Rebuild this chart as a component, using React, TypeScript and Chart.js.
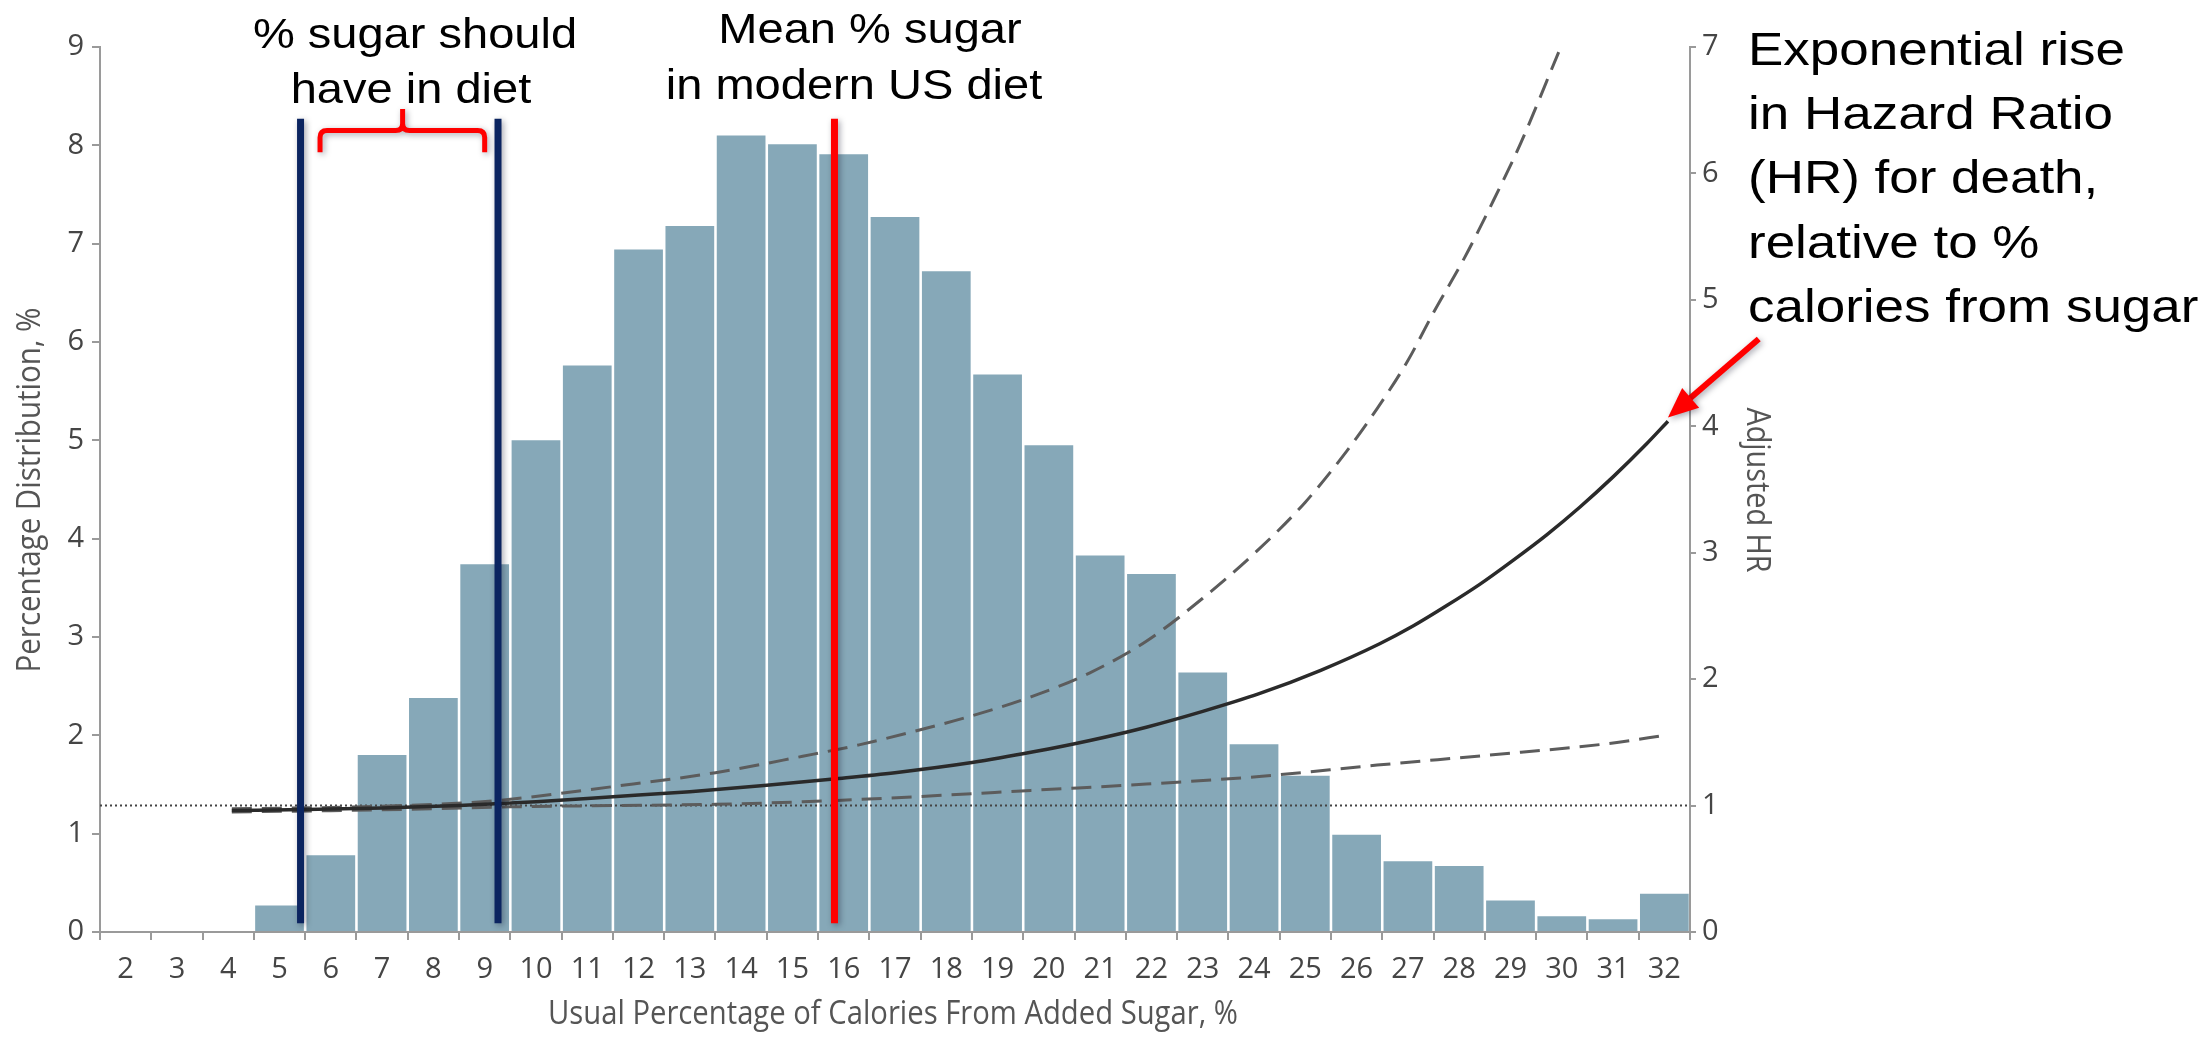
import React, { useEffect, useRef } from "react";
import { Chart, registerables } from "chart.js";

Chart.register(...registerables);

// ---------- data ----------
const categories = [
  "2", "3", "4", "5", "6", "7", "8", "9", "10", "11", "12", "13", "14", "15", "16", "17",
  "18", "19", "20", "21", "22", "23", "24", "25", "26", "27", "28", "29", "30", "31", "32",
];
const distributionPct = [
  0, 0, 0, 0.27, 0.78, 1.8, 2.38, 3.74, 5.0, 5.76, 6.94, 7.18, 8.1, 8.01, 7.91, 7.27,
  6.72, 5.67, 4.95, 3.83, 3.64, 2.64, 1.91, 1.59, 0.99, 0.72, 0.67, 0.32, 0.16, 0.13, 0.39,
];

const hrX = [4.07, 5.5, 7.0, 8.5, 10.0, 11.5, 13.0, 14.5, 15.8, 17.0, 18.5, 19.7, 20.8, 21.9, 23.0, 24.1, 25.3, 26.45, 27.1, 27.75, 28.4, 29.05, 29.7, 30.35, 31.0, 31.65, 32.07];
const hrAdjusted = [0.962, 0.968, 0.98, 1.0, 1.03, 1.07, 1.11, 1.16, 1.21, 1.26, 1.34, 1.425, 1.515, 1.62, 1.745, 1.885, 2.07, 2.28, 2.42, 2.58, 2.75, 2.94, 3.14, 3.36, 3.6, 3.86, 4.04];

const upperX = [4.07, 6.0, 8.0, 9.25, 11.5, 13.5, 15.2, 16.3, 17.4, 18.5, 19.65, 20.8, 21.9, 23.0, 24.1, 25.0, 25.8, 26.4, 27.0, 27.5, 28.1, 28.6, 29.2, 29.94];
const upperCI = [0.975, 0.985, 1.01, 1.04, 1.15, 1.26, 1.39, 1.48, 1.59, 1.71, 1.86, 2.05, 2.3, 2.64, 3.03, 3.4, 3.8, 4.14, 4.52, 4.9, 5.33, 5.73, 6.24, 6.96];

const lowerX = [4.07, 6.0, 8.0, 9.5, 11.5, 13.5, 15.2, 17.4, 19.65, 21.9, 24.1, 26.4, 28.6, 30.9, 32.08];
const lowerCI = [0.95, 0.96, 0.975, 0.99, 1.0, 1.01, 1.03, 1.07, 1.12, 1.17, 1.23, 1.32, 1.4, 1.49, 1.56];

const refX = [1.5, 32.5];
const refHR = [1, 1];

// annotation values (data units)
const guideX = [5.41, 9.26, 15.82];
const guideColors = ["#0b2460", "#0b2460", "#ff0000"];
const guideFrom = 0.09; // left-axis units
const guideTo = 8.27;
const braceXs = [5.79, 7.4, 9.0]; // left, tip, right
const braceYs = [7.93, 8.15, 8.37]; // ends, bar, tip
const arrowFrom = [33.84, 4.69]; // x, HR
const arrowTo = [32.07, 4.07];

const noteLeft = ["% sugar should", "have in diet"];
const noteMid = ["Mean % sugar", "in modern US diet"];
const noteRight = ["Exponential rise", "in Hazard Ratio", "(HR) for death,", "relative to %", "calories from sugar"];
const xTitle = "Usual Percentage of Calories From Added Sugar, %";
const yTitle = "Percentage Distribution, %";
const y2Title = "Adjusted HR";

const AXIS = "#9a9a9a";
const TICK = "#454545";
const BAR = "#86a8b8";

function stretchedText(ctx: CanvasRenderingContext2D, text: string, x: number, y: number, font: string, sx: number, align: CanvasTextAlign) {
  ctx.save();
  ctx.font = font;
  ctx.fillStyle = "#000";
  ctx.textAlign = align;
  ctx.textBaseline = "alphabetic";
  ctx.translate(x, y);
  ctx.scale(sx, 1);
  ctx.fillText(text, 0, 0);
  ctx.restore();
}

function fittedTitle(ctx: CanvasRenderingContext2D, text: string, cx: number, base: number, rot: number, font: string, target: number) {
  ctx.save();
  ctx.font = font;
  ctx.fillStyle = "#555";
  ctx.textAlign = "center";
  ctx.textBaseline = "alphabetic";
  const w = ctx.measureText(text).width;
  const sx = target / w;
  if (rot === 0) {
    ctx.translate(cx, base);
  } else {
    ctx.translate(base, cx);
  }
  ctx.rotate(rot);
  ctx.scale(sx, 1);
  ctx.fillText(text, 0, 0);
  ctx.restore();
}

const annotPlugin = {
  id: "annot",
  afterDatasetsDraw(chart: any) {
    const ctx: CanvasRenderingContext2D = chart.ctx;
    const xs = chart.scales.xl;
    const ys = chart.scales.y;
    const ys2 = chart.scales.y2;

    ctx.save();
    ctx.shadowColor = "rgba(0,0,30,0.35)";
    ctx.shadowBlur = 6;
    ctx.shadowOffsetX = 2;
    ctx.shadowOffsetY = 2;
    // vertical guide lines
    guideX.forEach((gx, i) => {
      const px = xs.getPixelForValue(gx);
      ctx.strokeStyle = guideColors[i];
      ctx.lineWidth = 7;
      ctx.beginPath();
      ctx.moveTo(px, ys.getPixelForValue(guideFrom));
      ctx.lineTo(px, ys.getPixelForValue(guideTo));
      ctx.stroke();
    });

    // brace
    const xl = xs.getPixelForValue(braceXs[0]);
    const xt = xs.getPixelForValue(braceXs[1]);
    const xr = xs.getPixelForValue(braceXs[2]);
    const yEnd = ys.getPixelForValue(braceYs[0]);
    const yBar = ys.getPixelForValue(braceYs[1]);
    const yTip = ys.getPixelForValue(braceYs[2]);
    const r = 7;
    ctx.strokeStyle = "#ff0000";
    ctx.lineWidth = 5;
    ctx.beginPath();
    ctx.moveTo(xl, yEnd);
    ctx.lineTo(xl, yBar + r);
    ctx.quadraticCurveTo(xl, yBar, xl + r, yBar);
    ctx.lineTo(xt - r, yBar);
    ctx.quadraticCurveTo(xt, yBar, xt, yBar - r);
    ctx.lineTo(xt, yTip);
    ctx.moveTo(xt, yBar - r);
    ctx.quadraticCurveTo(xt, yBar, xt + r, yBar);
    ctx.lineTo(xr - r, yBar);
    ctx.quadraticCurveTo(xr, yBar, xr, yBar + r);
    ctx.lineTo(xr, yEnd);
    ctx.stroke();

    // arrow
    const tx = xs.getPixelForValue(arrowFrom[0]);
    const ty = ys2.getPixelForValue(arrowFrom[1]);
    const hx = xs.getPixelForValue(arrowTo[0]);
    const hy = ys2.getPixelForValue(arrowTo[1]);
    const len = Math.hypot(hx - tx, hy - ty);
    const dx = (hx - tx) / len;
    const dy = (hy - ty) / len;
    const L = 30;
    const W = 13;
    const bx = hx - dx * L;
    const by = hy - dy * L;
    ctx.strokeStyle = "#ff0000";
    ctx.fillStyle = "#ff0000";
    ctx.lineWidth = 6;
    ctx.beginPath();
    ctx.moveTo(tx, ty);
    ctx.lineTo(bx + dx * 3, by + dy * 3);
    ctx.stroke();
    ctx.beginPath();
    ctx.moveTo(hx, hy);
    ctx.lineTo(bx - dy * W, by + dx * W);
    ctx.lineTo(bx + dy * W, by - dx * W);
    ctx.closePath();
    ctx.fill();
    ctx.restore();

    // annotation text
    const fSmall = '42px "Liberation Sans", Arial, sans-serif';
    const fBig = '47px "Liberation Sans", Arial, sans-serif';
    stretchedText(ctx, noteLeft[0], 415, 48, fSmall, 1.12, "center");
    stretchedText(ctx, noteLeft[1], 411, 103, fSmall, 1.12, "center");
    stretchedText(ctx, noteMid[0], 870, 43, fSmall, 1.12, "center");
    stretchedText(ctx, noteMid[1], 854, 99, fSmall, 1.12, "center");
    noteRight.forEach((t, i) => stretchedText(ctx, t, 1748, 65 + i * 64.2, fBig, 1.127, "left"));

    // axis titles
    const fTitle = '33px "Open Sans", sans-serif';
    const ca = chart.chartArea;
    fittedTitle(ctx, xTitle, (ca.left + ca.right) / 2 - 2, 1024, 0, fTitle, 690);
    fittedTitle(ctx, yTitle, 490, 40, -Math.PI / 2, fTitle, 365);
    fittedTitle(ctx, y2Title, 490, 1747, Math.PI / 2, fTitle, 165);
  },
};

export default function App() {
  const ref = useRef<HTMLCanvasElement>(null);
  useEffect(() => {
    document.body.style.margin = "0";
    const canvas = ref.current!;
    const tickFont = { family: '"Open Sans", sans-serif', size: 29 };
    const chart = new Chart(canvas, {
      type: "bar",
      data: {
        labels: categories,
        datasets: [
          {
            type: "line",
            label: "Adjusted HR",
            data: hrX.map((x, i) => ({ x, y: hrAdjusted[i] })),
            xAxisID: "xl",
            yAxisID: "y2",
            borderColor: "#2a2a2a",
            borderWidth: 3.5,
            pointRadius: 0,
            cubicInterpolationMode: "monotone",
            fill: false,
            order: 1,
          } as any,
          {
            type: "line",
            label: "Upper 95% CI",
            data: upperX.map((x, i) => ({ x, y: upperCI[i] })),
            xAxisID: "xl",
            yAxisID: "y2",
            borderColor: "#5c5c5c",
            borderWidth: 3,
            borderDash: [20, 10],
            pointRadius: 0,
            cubicInterpolationMode: "monotone",
            fill: false,
            order: 2,
          } as any,
          {
            type: "line",
            label: "Lower 95% CI",
            data: lowerX.map((x, i) => ({ x, y: lowerCI[i] })),
            xAxisID: "xl",
            yAxisID: "y2",
            borderColor: "#5c5c5c",
            borderWidth: 3,
            borderDash: [20, 10],
            pointRadius: 0,
            cubicInterpolationMode: "monotone",
            fill: false,
            order: 2,
          } as any,
          {
            type: "line",
            label: "HR = 1",
            data: refX.map((x, i) => ({ x, y: refHR[i] })),
            xAxisID: "xl",
            yAxisID: "y2",
            borderColor: "#444",
            borderWidth: 2,
            borderDash: [2, 3],
            pointRadius: 0,
            fill: false,
            order: 3,
          } as any,
          {
            type: "bar",
            label: "Percentage Distribution",
            data: distributionPct,
            xAxisID: "x",
            yAxisID: "y",
            backgroundColor: BAR,
            barPercentage: 0.95,
            categoryPercentage: 1,
            grouped: false,
            order: 10,
          } as any,
        ],
      },
      options: {
        responsive: false,
        animation: false,
        devicePixelRatio: 1,
        layout: { padding: { left: 0, top: 47, right: 427, bottom: 0 } },
        plugins: { legend: { display: false }, tooltip: { enabled: false } },
        scales: {
          x: {
            type: "category",
            position: "bottom",
            offset: true,
            grid: { offset: true, drawOnChartArea: false, drawTicks: true, tickLength: 8, color: AXIS, lineWidth: 2 },
            border: { color: AXIS, width: 2 },
            ticks: { font: tickFont, color: TICK, padding: 12, maxRotation: 0, autoSkip: false },
            afterFit: (s: any) => { s.height = 108; },
          },
          xl: {
            type: "linear",
            axis: "x",
            position: "bottom",
            display: false,
            offset: false,
            grid: { offset: false },
            min: 1.5,
            max: 32.5,
          },
          y: {
            type: "linear",
            position: "left",
            min: 0,
            max: 9,
            ticks: { stepSize: 1, font: tickFont, color: TICK, padding: 8 },
            grid: { drawOnChartArea: false, drawTicks: true, tickLength: 8, color: AXIS, lineWidth: 2 },
            border: { color: AXIS, width: 2 },
            afterFit: (s: any) => { s.width = 100; },
          },
          y2: {
            type: "linear",
            position: "right",
            min: 0,
            max: 7,
            ticks: { stepSize: 1, font: tickFont, color: TICK, padding: 6 },
            grid: { drawOnChartArea: false, drawTicks: true, tickLength: 6, color: AXIS, lineWidth: 2 },
            border: { color: AXIS, width: 2 },
            afterFit: (s: any) => { s.width = 90; },
          },
        },
      } as any,
      plugins: [annotPlugin],
    });
    return () => chart.destroy();
  }, []);
  return (
    <div style={{ position: "fixed", left: 0, top: 0, width: 2207, height: 1040, background: "#fff" }}>
      <canvas ref={ref} width={2207} height={1040} style={{ display: "block" }} />
    </div>
  );
}
